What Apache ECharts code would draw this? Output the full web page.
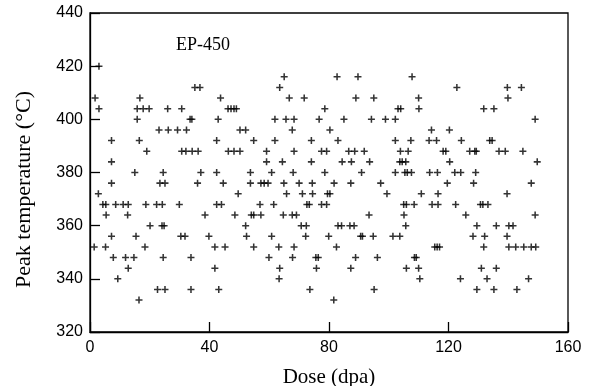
<!DOCTYPE html>
<html>
<head>
<meta charset="utf-8">
<title>EP-450 peak temperature</title>
<script src="https://cdn.jsdelivr.net/npm/echarts@6/dist/echarts.min.js"></script>
<style>
    html, body { margin: 0; padding: 0; background: #fff; }
    #chart { width: 599px; height: 386px; }
</style>
</head>
<body>
<div id="chart"></div>
<script>
    // peak temperature levels (°C) and the doses (dpa) read at each level
    var tempLevels = [420, 416, 412, 408, 404, 400, 396, 392, 388, 384, 380, 376,
        372, 368, 364, 360, 356, 352, 348, 344, 340, 336, 332];
    var dosesAtLevel = [
        [3],
        [65, 82.7, 89.7, 107.8],
        [35.1, 36.8, 63.5, 122.8, 139.7, 144.4],
        [1.7, 16.7, 43.7, 66.7, 71.7, 89, 95, 110, 139.9],
        [3, 15.8, 17.8, 19.8, 26, 30.7, 46.2, 47.2, 48.2, 49, 78.6, 103.1, 104, 110.1, 131.8, 135.2],
        [15.8, 33.5, 34.1, 42.9, 61.9, 65.6, 68.3, 76.7, 85, 94.2, 98.9, 102.2, 149],
        [23.1, 26.2, 29.3, 32.3, 50.2, 52.1, 67.7, 80.3, 114.3, 120.3],
        [7.2, 16.5, 42.4, 54.8, 61.9, 74.1, 83, 102.2, 107.4, 113.5, 116, 124.3, 133.8, 134.6],
        [19, 30.7, 32.1, 34.2, 36.2, 46.3, 48.2, 50.2, 59.1, 68.3, 77.5, 79.2, 86.6, 88.6, 91.8,
            103.9, 106.5, 118.2, 119.1, 127.1, 128.8, 129.3, 136.9, 139, 144.9],
        [7.2, 59.1, 64.4, 74.1, 84.4, 87.5, 93.6, 103.7, 104.5, 105.7, 120.4, 149.7],
        [15, 24.5, 37.1, 42.4, 53.7, 60.8, 68, 78.6, 90.9, 102.2, 105.4, 106.2, 107.6, 113.7, 116.3,
            122.1, 124.1, 129.1],
        [7.2, 23.4, 25.1, 36, 44.6, 53.7, 57.2, 58.3, 59.6, 64.9, 70, 74.4, 81.7, 87.3, 97.3, 119.6,
            128.4, 147.7],
        [2.8, 49.6, 65.8, 71.1, 74.5, 79.5, 80.3, 99.4, 110.9, 116.5, 139.6],
        [4.3, 5.3, 8.6, 11.1, 12.8, 18.7, 22.3, 24.2, 29.9, 42.4, 44, 56.9, 61.5, 72.6, 73.4, 77.5,
            79.2, 105, 105.9, 108.5, 114.5, 116.5, 122.4, 130.7, 131.5, 133.2],
        [5.4, 12.6, 38.5, 48.5, 54, 54.8, 57.2, 64.7, 67.7, 69.1, 93.4, 105.1, 125.8, 149],
        [20.1, 24.1, 24.8, 52.1, 70.7, 72.4, 83, 84.2, 87, 88.4, 105.7, 129.5, 136, 140.2, 141.6],
        [7.2, 15.4, 30.4, 31.8, 39.8, 52.4, 60.8, 72.2, 79.9, 90.6, 91.2, 94.8, 101.4, 103.7, 128.2,
            132.1, 139.6],
        [1.4, 5.2, 18.4, 41.8, 45.2, 54.8, 63.2, 68.3, 82.5, 115.4, 116.2, 117, 131.8, 140.2, 142.5,
            145.2, 147.7, 149.2],
        [7.8, 11.9, 14.7, 24.5, 33.8, 59.9, 67.8, 75.6, 76.4, 88.9, 96.2, 108.6, 109.2],
        [12.8, 41.8, 63.5, 75.8, 87.3, 105.9, 110, 131, 136],
        [9.3, 63.3, 110.4, 124, 132.9, 146.8],
        [22.6, 25.1, 33.8, 43.1, 73.6, 95.1, 129.5, 135.2, 142.9],
        [16.4, 81.6]
    ];
    var xTicks = [0, 40, 80, 120, 160];
    var yTicks = [320, 340, 360, 380, 400, 420, 440];

    var points = [];
    tempLevels.forEach(function (t, i) {
        dosesAtLevel[i].forEach(function (d) {
            points.push([d, t]);
        });
    });

    var plus = 'path://M-0.22,-1H0.22V-0.22H1V0.22H0.22V1H-0.22V0.22H-1V-0.22H-0.22Z';
    var sans = '"Liberation Sans", Arial, sans-serif';
    var serif = '"Liberation Serif", "Times New Roman", serif';

    var myChart = echarts.init(document.getElementById('chart'));
    var option = {
        animation: false,
        grid: {
            left: 90,
            right: 31,
            top: 13,
            bottom: 54,
            outerBoundsMode: 'none',
            containLabel: false,
            show: true,
            borderColor: '#000',
            borderWidth: 1.3
        },
        graphic: [{
            type: 'text',
            left: 176,
            top: 36,
            style: {
                text: 'EP-450',
                font: '18px ' + serif,
                fill: '#000'
            }
        }],
        xAxis: {
            type: 'value',
            min: xTicks[0],
            max: xTicks[xTicks.length - 1],
            interval: 40,
            name: 'Dose (dpa)',
            nameLocation: 'middle',
            nameGap: 35,
            nameTextStyle: { fontFamily: serif, fontSize: 21, color: '#000' },
            axisLine: { lineStyle: { color: '#000', width: 1.3 } },
            axisTick: { inside: true, length: 10, lineStyle: { color: '#000', width: 1.3 } },
            axisLabel: { fontFamily: sans, fontSize: 16, color: '#000', margin: 8 },
            splitLine: { show: false }
        },
        yAxis: {
            type: 'value',
            min: yTicks[0],
            max: yTicks[yTicks.length - 1],
            interval: 20,
            name: 'Peak temperature (°C)',
            nameLocation: 'middle',
            nameGap: 55,
            // padding on the right pushes the rotated label a bit lower, as in the source
            nameTextStyle: { fontFamily: serif, fontSize: 22, color: '#000', padding: [0, 34, 0, 0] },
            axisLine: { lineStyle: { color: '#000', width: 1.3 } },
            axisTick: { inside: true, length: 10, lineStyle: { color: '#000', width: 1.3 } },
            axisLabel: { fontFamily: sans, fontSize: 16, color: '#000', margin: 7 },
            splitLine: { show: false }
        },
        series: [{
            type: 'scatter',
            data: points,
            symbol: plus,
            symbolSize: 7,
            itemStyle: { color: '#000' }
        }]
    };
    myChart.setOption(option);
</script>
</body>
</html>
